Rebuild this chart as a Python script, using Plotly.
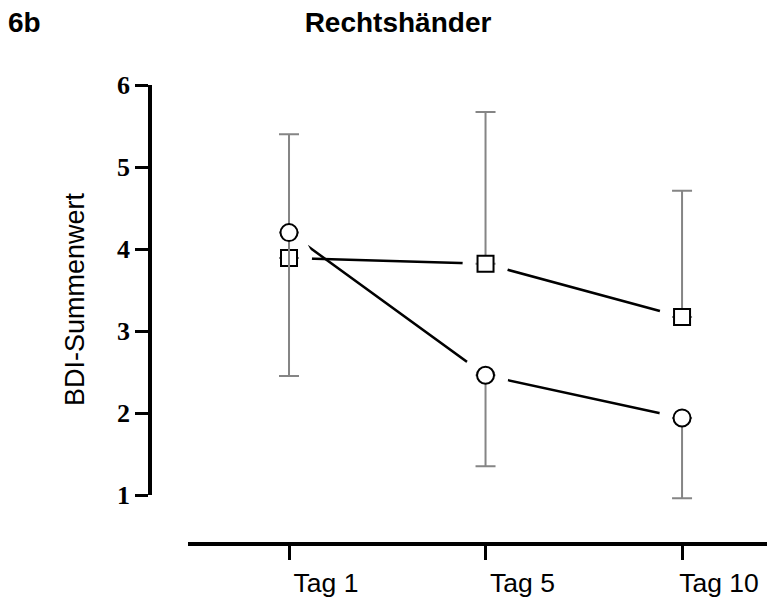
import plotly.graph_objects as go

# ---- data ----
days = ["Tag 1", "Tag 5", "Tag 10"]
square_means = [3.89, 3.82, 3.17]
square_err_up = [1.51, 1.85, 1.54]
circle_means = [4.20, 2.46, 1.94]
circle_err_down = [1.75, 1.11, 0.98]
y_ticks = [1, 2, 3, 4, 5, 6]
y_range = [1, 6]
panel_label = "6b"
title_text = "Rechtshänder"
y_title = "BDI-Summenwert"

x_pos = list(range(len(days)))

fig = go.Figure()

# connecting lines
for ys in (square_means, circle_means):
    fig.add_trace(go.Scatter(x=x_pos, y=ys, mode="lines",
                             line=dict(color="black", width=2.5),
                             hoverinfo="skip", showlegend=False))

# white spacers that create the gap between line and marker
for ys in (square_means, circle_means):
    fig.add_trace(go.Scatter(x=x_pos, y=ys, mode="markers",
                             marker=dict(symbol="circle", size=46, color="white",
                                         line=dict(width=0)),
                             hoverinfo="skip", showlegend=False, cliponaxis=False))

# squares with upper error bars
fig.add_trace(go.Scatter(
    x=x_pos, y=square_means, mode="markers", showlegend=False, cliponaxis=False,
    marker=dict(symbol="square", size=16, color="white",
                line=dict(color="black", width=2)),
    error_y=dict(type="data", symmetric=False, array=square_err_up,
                 arrayminus=[0] * len(square_means),
                 color="#858585", thickness=2, width=10)))

# circles with lower error bars
fig.add_trace(go.Scatter(
    x=x_pos, y=circle_means, mode="markers", showlegend=False, cliponaxis=False,
    marker=dict(symbol="circle", size=17, color="white",
                line=dict(color="black", width=2)),
    error_y=dict(type="data", symmetric=False, array=[0] * len(circle_means),
                 arrayminus=circle_err_down,
                 color="#858585", thickness=2, width=10)))

# empty trace so the visible (display-only) y axis gets its subplot
fig.add_trace(go.Scatter(x=[], y=[], yaxis="y2", showlegend=False, hoverinfo="skip"))

# the page body adds an 8px offset; lay out in page pixels minus that offset
OFF = 8
W, H = 775 - OFF, 597 - OFF
ml, mr, mt, mb = 150 - OFF, 0, 85 - OFF, 53
pw, ph = W - ml - mr, H - mt - mb

# visible axis spans exactly 1..6; data axis uses the same scale but reaches lower
y_top_px, y_bot_px, x_axis_px = 85, 495, 544
unit_px = (y_bot_px - y_top_px) / (y_range[1] - y_range[0])
extra_px = 30
data_range = [y_range[0] - extra_px / unit_px, y_range[1]]

fig.update_layout(
    width=W, height=H,
    margin=dict(l=ml, r=mr, t=mt, b=mb, pad=0),
    paper_bgcolor="white", plot_bgcolor="rgba(0,0,0,0)",
    title=dict(text="<b>" + title_text + "</b>", x=(398 - OFF) / W, xanchor="center",
               xref="container", y=1 - (22 - OFF) / H, yanchor="middle",
               font=dict(family="Liberation Sans, Arial", size=28, color="black")),
    xaxis=dict(domain=[(188 - 150) / pw, 1], range=[-0.514, 2.473],
               anchor="free", position=0,
               tickvals=x_pos, ticktext=days,
               showline=True, linecolor="black", linewidth=3.5,
               ticks="outside", ticklen=14, tickwidth=3, tickcolor="black",
               ticklabelshift=37, ticklabelstandoff=0,
               tickfont=dict(family="Liberation Sans, Arial", size=26.5, color="black"),
               showgrid=False, zeroline=False),
    # data axis (invisible)
    yaxis=dict(domain=[(x_axis_px - y_bot_px - extra_px) / ph, 1], range=data_range,
               anchor="free", position=0, visible=False,
               showgrid=False, zeroline=False),
    # display axis
    yaxis2=dict(domain=[(x_axis_px - y_bot_px) / ph, 1], range=y_range,
                anchor="free", position=0,
                tickvals=y_ticks, ticktext=[str(v) for v in y_ticks],
                showline=True, linecolor="black", linewidth=3.5,
                ticks="outside", ticklen=13, tickwidth=3, tickcolor="black",
                tickfont=dict(family="Liberation Serif, Times New Roman", size=26,
                              color="black", weight="bold"),
                showgrid=False, zeroline=False),
    annotations=[
        dict(text="<b>" + panel_label + "</b>", xref="paper", yref="paper",
             x=(8 - OFF - 2 - ml) / pw, xanchor="left",
             y=1 + (mt - (22 - OFF)) / ph, yanchor="middle", showarrow=False,
             font=dict(family="Liberation Sans, Arial", size=28, color="black")),
        dict(text=y_title, textangle=-90, xref="paper", yref="paper",
             x=(75 - OFF - ml) / pw, xanchor="center",
             y=1 - (299 - 85) / ph, yanchor="middle", showarrow=False,
             font=dict(family="Liberation Sans, Arial", size=27, color="black")),
    ],
)

fig.write_html("out.html")
